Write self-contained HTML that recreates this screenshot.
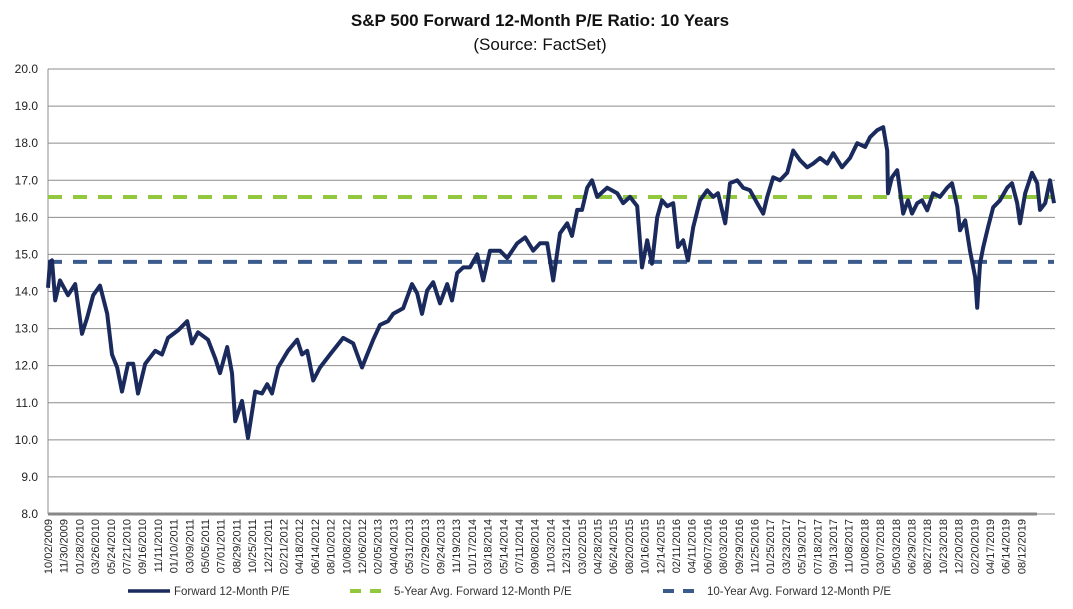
<!DOCTYPE html>
<html><head><meta charset="utf-8"><style>
html,body{margin:0;padding:0;background:#fff;width:1073px;height:609px;overflow:hidden}
svg{display:block;font-family:"Liberation Sans",Arial,sans-serif}
</style></head><body>
<svg id="chart" width="1073" height="609" viewBox="0 0 1073 609" xmlns="http://www.w3.org/2000/svg">
<text x="540" y="26" text-anchor="middle" font-size="17" font-weight="bold" fill="#111">S&amp;P 500 Forward 12-Month P/E Ratio: 10 Years</text>
<text x="540" y="50" text-anchor="middle" font-size="17" fill="#111">(Source: FactSet)</text>
<g id="grid"></g><g id="yticks"></g><g id="xticks"></g><g id="series"></g>
<g>
<line x1="128" y1="591" x2="170" y2="591" stroke="#1b2a5c" stroke-width="3.5"/>
<text x="174" y="595" font-size="11.5" fill="#333">Forward 12-Month P/E</text>
<line x1="350" y1="591" x2="386" y2="591" stroke="#92c83e" stroke-width="4" stroke-dasharray="11 9"/>
<text x="394" y="595" font-size="11.5" fill="#333">5-Year Avg. Forward 12-Month P/E</text>
<line x1="663" y1="591" x2="699" y2="591" stroke="#3b5b8c" stroke-width="4" stroke-dasharray="11 9"/>
<text x="707" y="595" font-size="11.5" fill="#333">10-Year Avg. Forward 12-Month P/E</text>
</g>
</svg>
<script>
const yTicks=[8,9,10,11,12,13,14,15,16,17,18,19,20];
const xLabels=["10/02/2009","11/30/2009","01/28/2010","03/26/2010","05/24/2010","07/21/2010","09/16/2010","11/11/2010","01/10/2011","03/09/2011","05/05/2011","07/01/2011","08/29/2011","10/25/2011","12/21/2011","02/21/2012","04/18/2012","06/14/2012","08/10/2012","10/08/2012","12/06/2012","02/05/2013","04/04/2013","05/31/2013","07/29/2013","09/24/2013","11/19/2013","01/17/2014","03/18/2014","05/14/2014","07/11/2014","09/08/2014","11/03/2014","12/31/2014","03/02/2015","04/28/2015","06/24/2015","08/20/2015","10/16/2015","12/14/2015","02/11/2016","04/11/2016","06/07/2016","08/03/2016","09/29/2016","11/25/2016","01/25/2017","03/23/2017","05/19/2017","07/18/2017","09/13/2017","11/08/2017","01/08/2018","03/07/2018","05/03/2018","06/29/2018","08/27/2018","10/23/2018","12/20/2018","02/20/2019","04/17/2019","06/14/2019","08/12/2019"];
const tradingDay=[0,5,10,18,30,50,68,85,98,113,130,148,160,173,185,200,213,225,243,268,285,300,325,348,360,375,400,418,430,448,460,468,485,500,518,535,548,560,575,600,623,635,648,663,680,705,738,763,785,798,813,830,850,863,888,910,923,935,948,963,980,998,1010,1023,1038,1055,1073,1088,1105,1130,1148,1173,1193,1213,1230,1248,1263,1280,1298,1310,1323,1335,1348,1360,1373,1398,1423,1438,1455,1473,1485,1498,1510,1523,1535,1548,1563,1575,1588,1600,1613,1630,1648,1663,1675,1693,1705,1723,1738,1755,1773,1788,1798,1813,1830,1848,1863,1880,1898,1913,1930,1948,1963,1985,2005,2023,2043,2055,2073,2088,2098,2100,2110,2123,2130,2138,2150,2160,2173,2185,2198,2213,2230,2248,2260,2273,2280,2293,2305,2318,2323,2330,2338,2350,2363,2380,2398,2410,2423,2430,2443,2460,2473,2480,2493,2505,2515];
const forwardPE=[14.1,14.8,14.84,13.76,14.3,13.9,14.2,12.86,13.3,13.9,14.16,13.4,12.3,11.95,11.3,12.05,12.05,11.25,12.05,12.4,12.3,12.75,12.95,13.2,12.6,12.9,12.7,12.2,11.8,12.5,11.8,10.5,11.05,10.05,11.3,11.25,11.5,11.25,11.95,12.4,12.7,12.3,12.4,11.6,11.95,12.3,12.75,12.6,11.95,12.3,12.7,13.1,13.2,13.4,13.55,14.2,13.95,13.4,14.03,14.25,13.68,14.2,13.76,14.5,14.65,14.65,15.0,14.3,15.1,15.1,14.9,15.3,15.46,15.1,15.3,15.3,14.3,15.57,15.84,15.5,16.2,16.2,16.8,17.0,16.55,16.8,16.65,16.38,16.55,16.3,14.65,15.38,14.75,16.0,16.46,16.3,16.38,15.2,15.38,14.84,15.73,16.46,16.73,16.55,16.65,15.84,16.92,17.0,16.8,16.73,16.38,16.1,16.55,17.08,17.0,17.2,17.8,17.54,17.35,17.45,17.6,17.45,17.73,17.35,17.6,18.0,17.9,18.16,18.35,18.43,17.8,16.65,17.08,17.27,16.73,16.1,16.46,16.1,16.38,16.46,16.19,16.65,16.55,16.8,16.92,16.3,15.65,15.92,15.1,14.38,13.56,14.75,15.19,15.73,16.27,16.46,16.8,16.92,16.38,15.84,16.65,17.2,16.92,16.2,16.38,17.0,16.38];
const avg5=[16.55];
const avg10=[14.8];
const NS="http://www.w3.org/2000/svg";
const L=48,R=1055,T=69,B=514,maxDay=2515;
const yS=v=>B-(v-8)/12*(B-T);
const xS=d=>L+d/maxDay*(1054-L);
const xL=i=>48+i*15.7;
function mk(tag,at,parent){const e=document.createElementNS(NS,tag);for(const k in at)e.setAttribute(k,at[k]);parent.appendChild(e);return e;}
const grid=document.getElementById('grid'),yt=document.getElementById('yticks'),xt=document.getElementById('xticks'),se=document.getElementById('series');
yTicks.forEach(v=>{
 const g=mk('line',{x1:L,x2:R,y1:yS(v),y2:yS(v),stroke:'#8c8c8c','stroke-width':1},grid);
 
 
 const t=mk('text',{x:38,y:yS(v)+4,'text-anchor':'end','font-size':12,fill:'#222'},yt);
 t.textContent=v.toFixed(1);
 
 
});
const ya=mk('line',{x1:L,x2:L,y1:T,y2:B,stroke:'#8c8c8c','stroke-width':1},grid);


const xa=mk('line',{x1:L,x2:1037,y1:B,y2:B,stroke:'#888','stroke-width':3},grid);


xLabels.forEach((s,i)=>{
 const x=xL(i)+4;
 const t=mk('text',{x:x,y:519,'text-anchor':'end','font-size':11,fill:'#222',transform:`rotate(-90 ${x} 519)`},xt);
 t.textContent=s;
 
 
});
const a5=mk('line',{x1:L,x2:1054,y1:yS(avg5[0]),y2:yS(avg5[0]),stroke:'#92c83e','stroke-width':4,'stroke-dasharray':'14 11'},se);


const a10=mk('line',{x1:L,x2:1054,y1:yS(avg10[0]),y2:yS(avg10[0]),stroke:'#3b5b8c','stroke-width':4,'stroke-dasharray':'14 11'},se);


const pts=forwardPE.map((v,i)=>xS(tradingDay[i]).toFixed(1)+','+yS(v).toFixed(1)).join(' ');
const pl=mk('polyline',{points:pts,fill:'none',stroke:'#1b2a5c','stroke-width':4,'stroke-linejoin':'round'},se);


</script>
</body></html>
